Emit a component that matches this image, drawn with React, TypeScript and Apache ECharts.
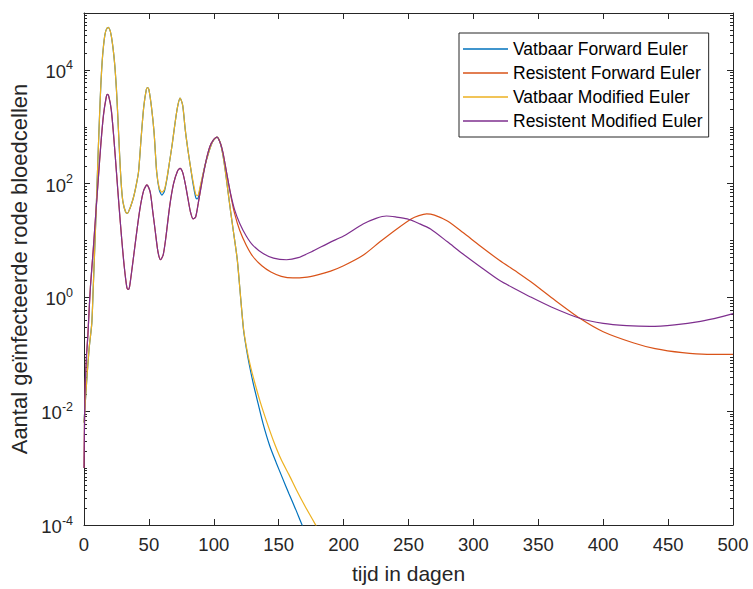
import React, { useEffect, useRef } from 'react';
import * as echarts from 'echarts';

const FONT = '"Liberation Sans", Arial, Helvetica, sans-serif';
const AXIS_COLOR = '#262626';

const seriesNames = [
  'Vatbaar Forward Euler',
  'Resistent Forward Euler',
  'Vatbaar Modified Euler',
  'Resistent Modified Euler',
];
const seriesColors = ['#0072BD', '#D95319', '#EDB120', '#7E2F8E'];

const xTitle = 'tijd in dagen';
const yTitle = 'Aantal geïnfecteerde rode bloedcellen';
const xMin = 0;
const xMax = 500;
const xStep = 50;
const yMin = 1e-4;
const yMax = 1e5;
const yLabelTicks = [1e-4, 1e-2, 1, 1e2, 1e4];
const yDecades = [-4, -3, -2, -1, 0, 1, 2, 3, 4];
const yMinorMultipliers = [2, 3, 4, 5, 6, 7, 8, 9];
const yOddDecadeTicks = [1e-3, 1e-1, 10, 1e3];

// [t (dagen), aantal]
const vatbaarFE: [number, number][] = [
  [0, 6.3e-3], [2, 0.032], [4, 0.13], [6, 0.35], [7, 1.26], [8, 5.0], [9, 20], [10, 89],
  [11, 400], [12, 1600], [13, 5600], [14, 14000], [15, 26000], [16, 40000], [17, 50000],
  [18.6, 56000], [20, 50000], [21, 40000], [22, 28000], [23, 18000], [24, 10000], [25, 4500],
  [26, 1600], [27, 520], [28, 180], [29, 79], [30, 48], [32, 32], [33.5, 30], [35, 35],
  [36, 40], [38, 56], [40, 89], [42, 160], [44, 630], [46, 2200], [48, 4500], [49, 4900],
  [50, 4500], [52, 2200], [54, 790], [56, 160], [58, 78], [60, 63], [62, 74], [64, 125],
  [66, 250], [68, 500], [70, 1100], [72, 2200], [74, 3200], [76, 2400], [78, 890], [80, 400],
  [82, 200], [84, 100], [86, 58], [87, 54], [88, 57], [90, 95], [93, 200], [96, 350],
  [99, 540], [102.5, 660], [105, 520], [107, 320], [109, 160], [111, 71], [113, 32],
  [115, 15], [118, 4.8], [120, 1.5], [121.5, 0.6], [123, 0.26], [125, 0.13], [127.5, 0.063],
  [130.5, 0.03], [134, 0.014], [138, 6.0e-3], [143, 2.5e-3], [148, 1.26e-3], [153, 6.6e-4],
  [158, 3.5e-4], [163, 1.9e-4], [168, 1.0e-4], [172, 6.3e-5],
];

const resistentFE: [number, number][] = [
  [0, 1e-3], [0.5, 0.01], [1, 0.032], [2, 0.1], [3, 0.22], [4, 0.63], [5, 1.6], [7, 6.3],
  [9, 28], [11, 120], [13, 500], [15, 1600], [17, 3200], [18, 3700], [19, 3500], [21, 2000],
  [23, 630], [25, 160], [27, 40], [29, 11], [31, 3.5], [33, 1.5], [34, 1.38], [35, 1.5],
  [37, 3.2], [40, 11], [43, 35], [46, 76], [48.5, 95], [51, 71], [53, 32], [55, 14],
  [57, 6.3], [59, 4.6], [61, 5.6], [63, 11], [66, 40], [69, 100], [72, 166], [74, 186],
  [76, 158], [78, 100], [80, 56], [82, 32], [84, 24], [86, 26], [88, 45], [91, 112],
  [94, 250], [97, 450], [100, 600], [102.5, 660], [105, 520], [107, 355], [110, 150],
  [113, 63], [116, 30], [120, 15], [125, 8.3], [130, 5.3], [137, 3.6], [144, 2.8],
  [152, 2.35], [161, 2.2], [170, 2.25], [180, 2.5], [190, 2.9], [200, 3.6], [215, 5.5],
  [228, 9.5], [241, 16], [252, 24], [258, 27.5], [264, 29.5], [270, 28], [280, 22],
  [292, 13.8], [305, 8.1], [320, 4.5], [334, 2.75], [344, 1.9], [360, 1.0], [382, 0.43],
  [400, 0.25], [423, 0.16], [440, 0.126], [461, 0.107], [480, 0.1], [500, 0.1],
];

const vatbaarME: [number, number][] = [
  [0, 6.3e-3], [2, 0.032], [4, 0.13], [6, 0.35], [7, 1.26], [8, 5.0], [9, 20], [10, 89],
  [11, 400], [12, 1600], [13, 5600], [14, 14000], [15, 26000], [16, 40000], [17, 50000],
  [18.6, 56000], [20, 50000], [21, 40000], [22, 28000], [23, 18000], [24, 10000], [25, 4500],
  [26, 1600], [27, 520], [28, 180], [29, 79], [30, 48], [32, 32], [33.5, 30], [35, 35],
  [36, 40], [38, 56], [40, 89], [42, 160], [44, 630], [46, 2200], [48, 4500], [49, 4900],
  [50, 4500], [52, 2200], [54, 790], [56, 160], [58, 83], [60, 71], [62, 79], [64, 130],
  [66, 250], [68, 500], [70, 1100], [72, 2200], [74, 3200], [76, 2400], [78, 890], [80, 400],
  [82, 200], [84, 110], [86, 66], [87, 62], [88, 63], [90, 100], [93, 200], [96, 350],
  [99, 540], [102.5, 660], [105, 520], [107, 320], [109, 160], [111, 71], [113, 32],
  [115, 15], [118, 4.8], [120, 1.5], [121.5, 0.6], [123, 0.27], [125, 0.14], [128, 0.065],
  [131.5, 0.032], [136, 0.014], [141, 6.3e-3], [146, 3.0e-3], [152, 1.4e-3], [158, 7.6e-4],
  [164, 4.0e-4], [170, 2.2e-4], [176, 1.26e-4], [181, 7.9e-5],
];

const resistentME: [number, number][] = [
  [0, 1e-3], [0.5, 0.01], [1, 0.032], [2, 0.1], [3, 0.22], [4, 0.63], [5, 1.6], [7, 6.3],
  [9, 28], [11, 120], [13, 500], [15, 1600], [17, 3200], [18, 3700], [19, 3500], [21, 2000],
  [23, 630], [25, 160], [27, 40], [29, 11], [31, 3.5], [33, 1.5], [34, 1.38], [35, 1.5],
  [37, 3.2], [40, 11], [43, 35], [46, 76], [48.5, 95], [51, 71], [53, 32], [55, 14],
  [57, 6.3], [59, 4.6], [61, 5.6], [63, 11], [66, 40], [69, 100], [72, 166], [74, 186],
  [76, 158], [78, 100], [80, 56], [82, 32], [84, 24], [86, 26], [88, 45], [91, 112],
  [94, 250], [97, 450], [100, 600], [102.5, 660], [105, 520], [107, 355], [110, 150],
  [113, 66], [116, 35], [120, 20], [125, 12], [130, 8.3], [138, 5.9], [146, 4.9],
  [156, 4.6], [165, 5.0], [175, 6.3], [189.5, 9.3], [200, 12], [215, 19.5], [225, 24.5],
  [233, 27], [240, 26], [249, 24], [258, 20], [267, 16], [280, 9.5], [292, 5.8],
  [305, 3.5], [320, 2.0], [333, 1.38], [344, 1.02], [360, 0.68], [382, 0.43], [400, 0.35],
  [418, 0.32], [436, 0.31], [455, 0.33], [475, 0.38], [490, 0.45], [500, 0.52],
];

const seriesData = [vatbaarFE, resistentFE, vatbaarME, resistentME];

export default function App() {
  const ref = useRef<HTMLDivElement>(null);

  useEffect(() => {
    document.body.style.margin = '0';
    if (!ref.current) return;
    const chart = echarts.init(ref.current, undefined, { renderer: 'svg' });

    const minorTicks: number[] = [];
    yDecades.forEach((d) => {
      yMinorMultipliers.forEach((m) => minorTicks.push(Number((m * Math.pow(10, d)).toPrecision(6))));
    });
    yOddDecadeTicks.forEach((v) => minorTicks.push(v));

    const baseLog = {
      type: 'log' as const,
      logBase: 10,
      min: yMin,
      max: yMax,
      gridIndex: 0,
      splitLine: { show: false },
      axisLine: { show: true, lineStyle: { color: AXIS_COLOR, width: 1 } },
    };

    const option: any = {
      animation: false,
      grid: { left: 84, right: 20, top: 13, bottom: 61, containLabel: false },
      legend: {
        orient: 'vertical',
        left: 459,
        top: 33,
        padding: [7, 6, 7, 4],
        itemWidth: 45,
        itemHeight: 1.3,
        itemGap: 6,
        icon: 'rect',
        backgroundColor: '#ffffff',
        borderColor: AXIS_COLOR,
        borderWidth: 1,
        borderRadius: 0,
        textStyle: { fontFamily: FONT, fontSize: 17.5, color: '#000000', lineHeight: 18 },
        data: seriesNames.map((name) => ({ name, icon: 'rect' })),
      },
      xAxis: [
        {
          type: 'value',
          min: xMin,
          max: xMax,
          interval: xStep,
          name: xTitle,
          nameLocation: 'middle',
          nameGap: 38,
          nameTextStyle: { fontFamily: FONT, fontSize: 21, color: AXIS_COLOR },
          axisLine: { onZero: false, lineStyle: { color: AXIS_COLOR, width: 1 } },
          axisTick: { inside: true, length: 6, lineStyle: { color: AXIS_COLOR } },
          axisLabel: { fontFamily: FONT, fontSize: 18.5, color: AXIS_COLOR, margin: 10 },
          splitLine: { show: false },
        },
        {
          type: 'value',
          position: 'top',
          min: xMin,
          max: xMax,
          interval: xStep,
          axisLine: { onZero: false, lineStyle: { color: AXIS_COLOR, width: 1 } },
          axisTick: { inside: true, length: 6, lineStyle: { color: AXIS_COLOR } },
          axisLabel: { show: false },
          splitLine: { show: false },
        },
      ],
      yAxis: [
        {
          ...baseLog,
          position: 'left',
          name: yTitle,
          nameLocation: 'middle',
          nameGap: 52,
          nameTextStyle: { fontFamily: FONT, fontSize: 22, color: AXIS_COLOR },
          axisTick: { inside: true, length: 6, customValues: yLabelTicks, lineStyle: { color: AXIS_COLOR } },
          axisLabel: {
            customValues: yLabelTicks,
            margin: 11,
            formatter: (v: number) => `{b|10}{s|${Math.round(Math.log10(v))}}`,
            rich: {
              b: { fontFamily: FONT, fontSize: 18.5, color: AXIS_COLOR, padding: [3, 0, 0, 0] },
              s: { fontFamily: FONT, fontSize: 12.5, color: AXIS_COLOR, verticalAlign: 'top' },
            },
          },
        },
        {
          ...baseLog,
          position: 'left',
          axisLine: { show: false },
          axisTick: { inside: true, length: 3, customValues: minorTicks, lineStyle: { color: AXIS_COLOR } },
          axisLabel: { show: false },
        },
        {
          ...baseLog,
          position: 'right',
          axisTick: { inside: true, length: 6, customValues: yLabelTicks, lineStyle: { color: AXIS_COLOR } },
          axisLabel: { show: false },
        },
        {
          ...baseLog,
          position: 'right',
          axisLine: { show: false },
          axisTick: { inside: true, length: 3, customValues: minorTicks, lineStyle: { color: AXIS_COLOR } },
          axisLabel: { show: false },
        },
      ],
      series: seriesNames.map((name, i) => ({
        name,
        type: 'line',
        xAxisIndex: 0,
        yAxisIndex: 0,
        data: seriesData[i],
        showSymbol: false,
        symbol: 'none',
        smooth: 0.25,
        clip: true,
        color: seriesColors[i],
        itemStyle: { color: seriesColors[i] },
        lineStyle: { color: seriesColors[i], width: 1.2 },
        emphasis: { disabled: true },
      })),
    };

    chart.setOption(option);
    return () => chart.dispose();
  }, []);

  return <div ref={ref} style={{ width: 753, height: 589, background: '#ffffff' }} />;
}
